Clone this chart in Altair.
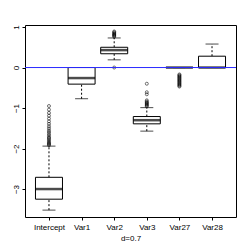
import altair as alt
import pandas as pd

cats = ["Intercept", "Var1", "Var2", "Var3", "Var27", "Var28"]
lower_whisker = [-3.52, -0.77, 0.19, -1.57, 0.0, 0.0]
q1 = [-3.25, -0.41, 0.34, -1.39, 0.0, 0.0]
median = [-3.0, -0.26, 0.43, -1.30, 0.0, 0.0]
q3 = [-2.71, 0.0, 0.50, -1.21, 0.0, 0.28]
upper_whisker = [-1.94, 0.0, 0.73, -0.99, 0.0, 0.58]

out_intercept = [-0.95, -1.04, -1.12, -1.19, -1.26, -1.33, -1.39, -1.45, -1.50, -1.55,
                 -1.59, -1.63, -1.67, -1.71, -1.74, -1.77, -1.80, -1.83, -1.86, -1.88,
                 -1.90, -1.92]
out_var2 = [0.76, 0.78, 0.80, 0.81, 0.83, 0.85, 0.87, 0.89, 0.0]
out_var3 = [-0.40, -0.61, -0.66, -0.81, -0.84, -0.86, -0.88, -0.90, -0.92, -0.94, -0.96]
out_var27 = [-0.17, -0.19, -0.21, -0.23, -0.25, -0.27, -0.29, -0.31, -0.33, -0.35,
             -0.37, -0.39, -0.41, -0.43, -0.45, -0.47]

y_ticks = [-3, -2, -1, 0, 1]
x_title = "d=0.7"

stats = pd.DataFrame({"cat": cats, "lw": lower_whisker, "q1": q1, "med": median,
                      "q3": q3, "uw": upper_whisker})
outs = pd.DataFrame(
    [{"cat": "Intercept", "v": v} for v in out_intercept]
    + [{"cat": "Var2", "v": v} for v in out_var2]
    + [{"cat": "Var3", "v": v} for v in out_var3]
    + [{"cat": "Var27", "v": v} for v in out_var27]
)

FONT = "Liberation Sans"
xscale = alt.Scale(type="point", domain=cats, padding=0.735)
yscale = alt.Scale(domain=[-3.69, 1.05], nice=False, zero=False)

xenc = alt.X("cat:N", scale=xscale, sort=cats,
             axis=alt.Axis(title=x_title, labelAngle=0, tickSize=3, labelPadding=3,
                           titlePadding=3, domain=False, titleFontWeight="normal",
                           labelFont=FONT, titleFont=FONT, labelFontSize=8,
                           titleFontSize=8, labelColor="#000", titleColor="#000",
                           tickColor="#000"))
yaxis = alt.Axis(title=None, values=y_ticks, labelAngle=270, labelAlign="center",
                 labelBaseline="bottom", tickSize=3, labelPadding=2, domain=False,
                 labelFont=FONT, labelFontSize=8, labelColor="#000", tickColor="#000",
                 grid=False)

base = alt.Chart(stats)

upper = base.mark_rule(color="black", strokeDash=[2, 2], strokeWidth=1).encode(
    x=xenc, y=alt.Y("q3:Q", scale=yscale, axis=yaxis), y2="uw:Q")
lower = base.mark_rule(color="black", strokeDash=[2, 2], strokeWidth=1).encode(
    x=xenc, y=alt.Y("lw:Q", scale=yscale), y2="q1:Q")
cap_hi = base.mark_tick(color="black", size=13, thickness=1).encode(
    x=xenc, y=alt.Y("uw:Q", scale=yscale))
cap_lo = base.mark_tick(color="black", size=13, thickness=1).encode(
    x=xenc, y=alt.Y("lw:Q", scale=yscale))
box = base.mark_bar(fill="white", stroke="black", strokeWidth=1, size=27).encode(
    x=xenc, y=alt.Y("q1:Q", scale=yscale), y2="q3:Q")
med = base.mark_tick(color="black", size=27, thickness=2.5).encode(
    x=xenc, y=alt.Y("med:Q", scale=yscale))
pts = alt.Chart(outs).mark_point(shape="circle", filled=False, color="black",
                                  size=9, strokeWidth=0.8).encode(
    x=xenc, y=alt.Y("v:Q", scale=yscale))
hline = alt.Chart(pd.DataFrame({"h": [0]})).mark_rule(color="#2a2aff", strokeWidth=1).encode(
    y=alt.Y("h:Q", scale=yscale))

chart = alt.layer(upper, lower, cap_hi, cap_lo, box, med, pts, hline).properties(
    width=211, height=192, autosize="none",
    padding={"left": 17, "top": 17, "right": 5, "bottom": 30},
).configure_view(stroke="black", strokeWidth=1).configure_axis(grid=False)

chart.save("out.html", embed_options={"renderer": "svg", "actions": False})
